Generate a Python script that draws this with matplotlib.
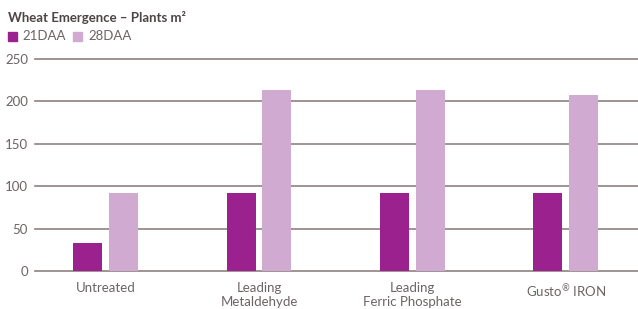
import numpy as np
import matplotlib.pyplot as plt
from matplotlib.patches import Rectangle

categories = ['Untreated', 'Leading\nMetaldehyde', 'Leading\nFerric Phosphate', 'Gusto$^{\u00ae}$ IRON']
series_names = ['21DAA', '28DAA']
vals_21 = [33, 92, 92, 92]
vals_28 = [92, 213, 213, 207]
y_ticks = [0, 50, 100, 150, 200, 250]

c21 = '#9b228e'
c28 = '#d0aad0'
grid_c = '#8c8280'
txt_c = '#6d6464'

plt.rcParams['font.family'] = ['Lato', 'DejaVu Sans']
plt.rcParams['mathtext.default'] = 'regular'

W, H = 638, 309
fig = plt.figure(figsize=(W / 100, H / 100), dpi=100)
ax = fig.add_axes([35 / W, (H - 271) / H, (W - 35) / W, 212 / H])

x = np.arange(len(categories))
w = 0.189
off = 0.117
ax.bar(x - off, vals_21, w, color=c21, zorder=3)
ax.bar(x + off, vals_28, w, color=c28, zorder=3)

for t in y_ticks:
    ax.axhline(t, color=grid_c, lw=1.2, zorder=1, clip_on=False)

ax.set_xlim(-0.46, 3.47)
ax.set_ylim(0, 250)
ax.set_yticks(y_ticks)
ax.set_yticklabels([str(t) for t in y_ticks], color=txt_c, fontsize=9.5)
ax.tick_params(axis='y', length=0, pad=5)
ax.set_xticks(x)
ax.set_xticklabels(categories, color=txt_c, fontsize=9.5, linespacing=1.15, va='top')
ax.tick_params(axis='x', length=0, pad=8)
for s in ax.spines.values():
    s.set_visible(False)

fig.text(8 / W, 1 - 17 / H, 'Wheat Emergence \u2013 Plants m\u00b2', fontsize=9.5,
         fontweight='bold', color='#4d4545', va='center', ha='left')
for sx, tx, name, col in [(8, 22, series_names[0], c21), (73, 88, series_names[1], c28)]:
    fig.patches.append(Rectangle((sx / W, 1 - 41 / H), 9 / W, 9 / H, color=col,
                                 transform=fig.transFigure))
    fig.text(tx / W, 1 - 36 / H, name, fontsize=9.5, color=txt_c, va='center', ha='left')

fig.savefig('out.png', dpi=100)
